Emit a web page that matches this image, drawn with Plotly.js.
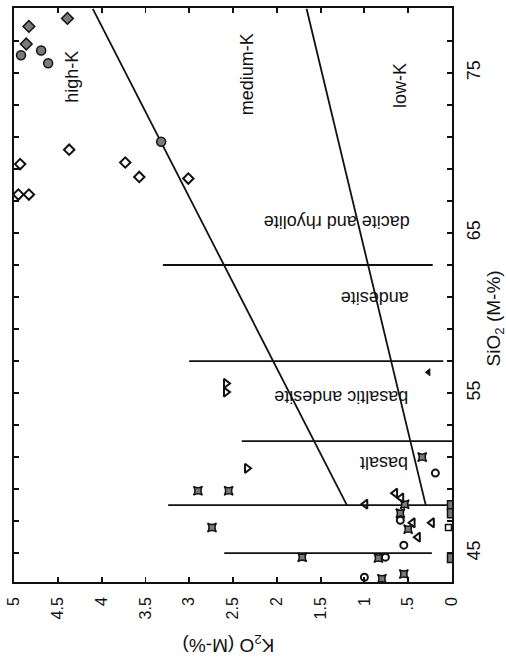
<!DOCTYPE html>
<html>
<head>
<meta charset="utf-8">
<script src="https://cdn.plot.ly/plotly-3.0.1.min.js"></script>
<style>html,body{margin:0;padding:0;background:#fff;}#chart{width:506px;height:662px;}</style>
</head>
<body>
<div id="chart"></div>
<script>
// ---- data (x = K2O wt%, y = SiO2 wt%) ----
const grayDiamondK  = [4.39, 4.83, 4.86];
const grayDiamondSi = [78.4, 77.9, 76.8];
const grayCircleK   = [4.92, 4.69, 4.61, 3.32];
const grayCircleSi  = [76.1, 76.4, 75.6, 70.7];
const openDiamondK  = [4.37, 4.93, 3.73, 3.57, 3.01, 4.95, 4.83];
const openDiamondSi = [70.2, 69.3, 69.4, 68.5, 68.4, 67.4, 67.4];
const starSquareK   = [2.9, 2.55, 2.74, 1.71, 0.54, 0.59, 0.5, 0.34, 0.8, 0.55, 0.84];
const starSquareSi  = [48.9, 48.9, 46.6, 44.75, 48.06, 47.5, 46.5, 51.0, 43.4, 43.7, 44.7];
const triRightK     = [2.58, 2.58, 2.34];
const triRightSi    = [55.6, 55.06, 50.3];
const triLeftK      = [0.99, 0.65, 0.58, 0.45, 0.23, 0.39];
const triLeftSi     = [48.06, 48.75, 48.45, 46.9, 46.9, 46.0];
const smallTriK     = [0.27];
const smallTriSi    = [56.3];
const openCircleK   = [0.59, 0.55, 0.76, 1.0, 0.19];
const openCircleSi  = [47.06, 45.5, 44.75, 43.5, 50.0];
const graySquareK   = [0.0, 0.0, 0.0];
const graySquareSi  = [48.0, 47.5, 44.7];
const openSquareK   = [0.04];
const openSquareSi  = [46.6];

// boundary lines
const boundarySi    = [48, 79];
const highKLine     = [1.2, 4.1];
const lowKLine      = [0.3, 1.66];
// rock-type dividers (constant SiO2)
const dividerSi     = [45, 48, 52, 57, 63];
const dividerKFrom  = [0.23, 0.0, 0.0, 0.1, 0.22];
const dividerKTo    = [2.6, 3.24, 2.4, 3.0, 3.3];

// labels
const seriesLabels  = ["high-K", "medium-K", "low-K"];
const seriesLabelK  = [4.34, 2.33, 0.6];
const seriesLabelSi = [74.75, 74.9, 74.2];
const rockLabels    = ["dacite and rhyolite", "andesite", "basaltic andesite", "basalt"];
const rockLabelK    = [1.32, 0.88, 1.26, 0.77];
const rockLabelSi   = [65.7, 60.9, 54.75, 50.6];

const kTicks = [0, 0.5, 1, 1.5, 2, 2.5, 3, 3.5, 4, 4.5, 5];
const kTickText = ["0", ".5", "1", "1.5", "2", "2.5", "3", "3.5", "4", "4.5", "5"];
const siTicks = [45, 55, 65, 75];
const siTickText = ["45", "55", "65", "75"];

const ink = "#111";
const gray = "#7a7a7a";
const lineStyle = {color: ink, width: 1.8};

const traces = [];
traces.push({x: highKLine, y: boundarySi, mode: "lines", line: lineStyle, hoverinfo: "skip"});
traces.push({x: lowKLine, y: boundarySi, mode: "lines", line: lineStyle, hoverinfo: "skip"});
dividerSi.forEach((s, i) => {
  traces.push({x: [dividerKFrom[i], dividerKTo[i]], y: [s, s], mode: "lines", line: lineStyle, hoverinfo: "skip"});
});
function pts(x, y, symbol, size, fill, lw) {
  return {x: x, y: y, mode: "markers", hoverinfo: "skip",
    marker: {symbol: symbol, size: size, color: fill, line: {color: ink, width: lw}}};
}
traces.push(pts(grayDiamondK, grayDiamondSi, "diamond", 9, gray, 1.5));
traces.push(pts(grayCircleK, grayCircleSi, "circle", 9, gray, 1.5));
traces.push(pts(openDiamondK, openDiamondSi, "diamond-open", 8, ink, 2));
traces.push(pts(starSquareK, starSquareSi, "star-square", 8, gray, 1.5));
traces.push(pts(triRightK, triRightSi, "triangle-right-open", 8, ink, 2));
traces.push(pts(triLeftK, triLeftSi, "triangle-left-open", 8, ink, 2));
traces.push(pts(smallTriK, smallTriSi, "triangle-left", 6, ink, 1));
traces.push(pts(openCircleK, openCircleSi, "circle-open", 7, ink, 2));
traces.push(pts(graySquareK, graySquareSi, "square", 9, gray, 1.5));
traces.push(pts(openSquareK, openSquareSi, "square-open", 6, ink, 1.5));

const font = "Liberation Sans, Arial, Helvetica, sans-serif";
const annotations = [];
seriesLabels.forEach((t, i) => annotations.push({
  x: seriesLabelK[i], y: seriesLabelSi[i], xref: "x", yref: "y", text: t, showarrow: false,
  xanchor: "center", yanchor: "middle",
  textangle: -90, font: {family: font, size: 18, color: ink}
}));
rockLabels.forEach((t, i) => annotations.push({
  x: rockLabelK[i], y: rockLabelSi[i], xref: "x", yref: "y", text: t, showarrow: false,
  xanchor: "center", yanchor: "middle",
  textangle: 180, font: {family: font, size: 18, color: ink}
}));
annotations.push({x: 0.489, y: -0.107, xref: "paper", yref: "paper", text: "K<sub>2</sub>O (M-%)",
  xanchor: "center", yanchor: "middle",
  showarrow: false, textangle: 180, font: {family: font, size: 19, color: ink}});
annotations.push({x: 1.097, y: 0.46, xref: "paper", yref: "paper", text: "SiO<sub>2</sub> (M-%)",
  xanchor: "center", yanchor: "middle",
  showarrow: false, textangle: -90, font: {family: font, size: 19, color: ink}});

const layout = {
  width: 506, height: 662,
  margin: {l: 14, r: 54, t: 8, b: 80},
  paper_bgcolor: "#fff", plot_bgcolor: "#fff",
  showlegend: false,
  xaxis: {
    range: [5, 0], showgrid: false, zeroline: false,
    showline: true, linecolor: ink, linewidth: 1.8, mirror: "allticks",
    ticks: "inside", ticklen: 5, tickwidth: 1.8, tickcolor: ink,
    tickvals: kTicks, ticktext: kTickText, tickangle: -90, ticklabelstandoff: 7,
    tickfont: {family: font, size: 16, color: ink}
  },
  yaxis: {
    range: [43.2, 79.05], side: "right", showgrid: false, zeroline: false,
    showline: true, linecolor: ink, linewidth: 1.8, mirror: "allticks",
    ticks: "inside", ticklen: 5, tickwidth: 1.8, tickcolor: ink,
    tickvals: siTicks, ticktext: siTickText, tickangle: -90, ticklabelstandoff: 5,
    tickfont: {family: font, size: 18, color: ink},
    minor: {ticks: "inside", ticklen: 5, tickwidth: 1.8, tickcolor: ink, tick0: 45, dtick: 2, showgrid: false}
  },
  annotations: annotations
};
Plotly.newPlot("chart", traces, layout, {staticPlot: true, displayModeBar: false});
</script>
</body>
</html>
